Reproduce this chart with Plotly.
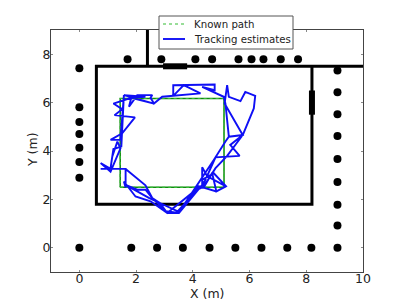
import plotly.graph_objects as go

known_x = [1.44, 5.10, 5.10, 1.44, 1.44]
known_y = [2.50, 2.50, 6.17, 6.17, 2.50]

track_x = [0.75, 1.63, 1.63, 1.57, 1.98, 2.51, 3.10, 3.51, 4.33, 4.33, 4.51, 5.17, 4.83, 4.68, 4.41, 4.04, 3.10, 2.84, 2.45, 1.63, 2.04, 2.33, 2.57,
           2.84, 3.47, 4.39, 4.80, 5.65, 5.32, 5.76, 5.21, 4.80, 4.39, 4.33, 4.74, 5.17, 4.83, 4.20, 3.60, 4.25, 4.75, 5.15, 5.27, 5.76, 6.15, 6.20, 5.85, 5.68, 5.27, 5.21, 5.12, 5.76, 5.27, 5.15,
           5.09, 4.33, 4.77, 4.77, 3.31, 3.31, 3.68, 4.27, 3.36, 2.92, 2.63, 2.51, 2.57, 2.04, 1.75, 1.83, 2.63, 1.57, 2.33, 1.83, 1.20, 1.51, 1.24, 1.96, 1.51, 1.10, 1.45, 1.57,
           1.48, 1.20, 1.10, 1.16, 1.34, 1.45, 1.10, 0.75, 1.10, 1.63, 2.33, 2.57, 3.04, 3.51]
track_y = [3.26, 3.26, 2.49, 2.74, 2.12, 1.92, 1.44, 1.44, 2.60, 3.33, 2.95, 2.54, 2.33, 3.09, 2.54, 2.33, 1.44, 1.85, 2.06, 2.60, 2.40, 2.40, 2.06,
           1.85, 1.51, 2.67, 3.74, 3.80, 4.25, 4.66, 3.80, 3.29, 2.54, 2.81, 3.08, 2.54, 2.33, 2.55, 1.62, 2.75, 3.65, 4.39, 4.59, 4.66, 5.76, 6.28, 6.44, 6.06, 6.24, 6.72, 5.96, 4.66, 4.59, 5.96,
           6.24, 6.65, 6.51, 6.75, 6.72, 6.28, 6.72, 6.38, 6.28, 6.24, 5.96, 6.20, 6.31, 6.31, 5.83, 6.20, 5.96, 6.31, 6.24, 6.20, 5.96, 5.73, 5.48, 5.39, 4.73, 4.46, 4.46, 6.31,
           4.18, 4.08, 3.29, 3.77, 4.39, 4.11, 3.15, 3.50, 3.26, 3.26, 2.58, 2.06, 1.51, 1.44]

wall_x = [10, 0.6, 0.6, 8.2, 8.2]
wall_y = [7.5, 7.5, 1.8, 1.8, 7.5]
stub_x = [2.4, 2.4]
stub_y = [7.5, 9]
door_top_x = [2.95, 3.8]
door_top_y = [7.5, 7.5]
door_right_x = [8.2, 8.2]
door_right_y = [5.5, 6.5]

dots_x = [0, 0, 0, 0, 0, 0, 0, 0,
          1.7, 2.89, 4.09, 4.68, 5.61, 6.07, 6.49, 7.10, 7.71,
          1.83, 2.74, 3.65, 4.59, 5.5, 6.42, 7.33, 8.18,
          9.1, 9.1, 9.1, 9.1, 9.1, 9.1, 9.1, 9.1, 9.1]
dots_y = [7.42, 5.81, 5.2, 4.7, 4.13, 3.55, 2.89, 0,
          7.79, 7.79, 7.79, 7.79, 7.79, 7.79, 7.79, 7.79, 7.79,
          0, 0, 0, 0, 0, 0, 0, 0,
          7.33, 6.43, 5.52, 4.62, 3.67, 2.72, 1.78, 0.92, 0]

x_ticks = [0, 2, 4, 6, 8, 10]
y_ticks = [0, 2, 4, 6, 8]

TEXT = "#222222"
FONT = "DejaVu Sans"

fig = go.Figure()
for xs, ys, w in [(wall_x, wall_y, 3), (stub_x, stub_y, 3), (door_top_x, door_top_y, 6), (door_right_x, door_right_y, 6)]:
    fig.add_trace(go.Scatter(x=xs, y=ys, mode="lines", hoverinfo="skip",
                             line=dict(color="black", width=w)))
fig.add_trace(go.Scatter(x=dots_x, y=dots_y, mode="markers", hoverinfo="skip",
                         marker=dict(color="black", size=8)))
fig.add_trace(go.Scatter(x=known_x, y=known_y, mode="lines", hoverinfo="skip",
                         line=dict(color="#118a11", width=1.5)))
fig.add_trace(go.Scatter(x=known_x, y=known_y, mode="lines", name="Known path",
                         line=dict(color="#33bb33", width=1.2, dash="dot")))
fig.add_trace(go.Scatter(x=track_x, y=track_y, mode="lines", name="Tracking estimates",
                         line=dict(color="#0f0ff5", width=1.9)))

axis = dict(showgrid=False, zeroline=False, showline=True, linecolor="#444444", linewidth=1.2,
            mirror="ticks", ticks="inside", ticklen=2, tickcolor="#888888", tickwidth=0.8,
            automargin=False,
            tickfont=dict(family=FONT, size=12.5, color=TEXT))
fig.update_xaxes(range=[-1, 10], tickvals=x_ticks, ticklabelstandoff=-5, **axis)
fig.update_yaxes(range=[-1, 9], tickvals=y_ticks, ticklabelstandoff=-3, **axis)

PLOT_L, PLOT_W, PLOT_B, PLOT_H = 51, 312, 272, 242
def px(v):
    return (v - PLOT_L) / PLOT_W
def py(v):
    return (PLOT_B - v) / PLOT_H

shapes = [
    dict(type="rect", xref="paper", yref="paper", x0=px(159), x1=px(293), y0=py(49), y1=py(16),
         fillcolor="white", line=dict(color="#555555", width=1), layer="above"),
    dict(type="line", xref="paper", yref="paper", x0=px(163), x1=px(184), y0=py(24), y1=py(24),
         line=dict(color="#33bb33", width=1.2, dash="dot"), layer="above"),
    dict(type="line", xref="paper", yref="paper", x0=px(163), x1=px(185), y0=py(39), y1=py(39),
         line=dict(color="#0f0ff5", width=1.9), layer="above"),
]
def label(text, x, y, size, anchor="left", angle=0):
    return dict(text=text, xref="paper", yref="paper", x=px(x), y=py(y), showarrow=False,
                xanchor=anchor, yanchor="middle", textangle=angle, borderpad=0,
                font=dict(family=FONT, size=size, color=TEXT))
annotations = [
    label("Known path", 193, 24.5, 10.2),
    label("Tracking estimates", 193, 39.5, 10.2),
    label("X (m)", 207, 293, 12.5, "center"),
    label("Y (m)", 32, 150, 12.5, "center", -90),
]

fig.update_layout(
    width=394, height=295, autosize=False, paper_bgcolor="white", plot_bgcolor="white",
    margin=dict(l=43, r=39, t=22, b=31), showlegend=False,
    font=dict(family=FONT, size=12, color=TEXT),
    shapes=shapes, annotations=annotations,
)
fig.write_html("out.html")
